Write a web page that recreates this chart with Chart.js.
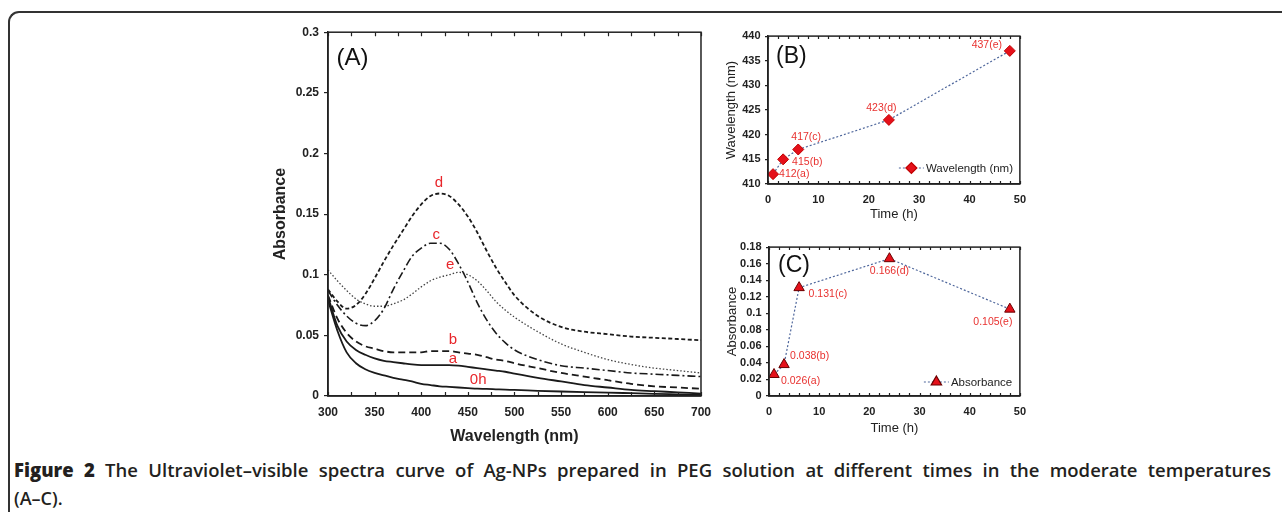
<!DOCTYPE html>
<html>
<head>
<meta charset="utf-8">
<script src="https://cdn.jsdelivr.net/npm/chart.js@4.4.0/dist/chart.umd.min.js"></script>
<style>
  html, body { margin: 0; padding: 0; background: #fff; }
  body { width: 1282px; height: 512px; position: relative; overflow: hidden; }
  .frame {
    position: absolute; left: 8px; top: 11px; width: 1400px; height: 600px;
    border-top: 2px solid #333; border-left: 2px solid #333;
    border-top-left-radius: 11px;
  }
  canvas { position: absolute; }
  #chartA { left: 260px; top: 20px; }
  #chartB { left: 705px; top: 25px; }
  #chartC { left: 705px; top: 236px; }
  .caption {
    position: absolute; left: 14px; top: 456px; width: 1257px;
    font-family: "Open Sans", Lato, sans-serif; font-size: 18px; line-height: 28px;
    color: #231f20; font-weight: 600;
  }
  .caption .l1 { text-align: justify; text-align-last: justify; }
  .caption b { font-weight: 800; }
</style>
</head>
<body>
<div class="frame"></div>
<canvas id="chartA" width="460" height="430"></canvas>
<canvas id="chartB" width="330" height="200"></canvas>
<canvas id="chartC" width="330" height="210"></canvas>
<div class="caption">
  <div class="l1" id="capLine"><b>Figure 2</b> The Ultraviolet–visible spectra curve of Ag-NPs prepared in PEG solution at different times in the moderate temperatures</div>
  <div>(A–C).</div>
</div>
<script>
/* ======================
DATA
====================== */

// (A) spectra
const wavelengths = [300, 310, 320, 330, 340, 350, 360, 370, 380, 390, 400, 410, 420, 430, 440, 450, 460, 470, 480, 490, 500, 525, 550, 575, 600, 625, 650, 675, 700];
const spec0h = [0.079, 0.054, 0.036, 0.027, 0.022, 0.019, 0.017, 0.015, 0.0135, 0.012, 0.010, 0.009, 0.008, 0.0075, 0.007, 0.0065, 0.006, 0.0058, 0.0055, 0.0052, 0.005, 0.0043, 0.0037, 0.0032, 0.0028, 0.0023, 0.0018, 0.0014, 0.001];
const specA = [0.082, 0.058, 0.045, 0.038, 0.034, 0.031, 0.029, 0.028, 0.027, 0.026, 0.0255, 0.0255, 0.0255, 0.0255, 0.025, 0.024, 0.023, 0.022, 0.021, 0.020, 0.0185, 0.015, 0.012, 0.009, 0.007, 0.005, 0.004, 0.003, 0.002];
const specB = [0.083, 0.064, 0.052, 0.045, 0.041, 0.039, 0.037, 0.036, 0.036, 0.036, 0.036, 0.037, 0.037, 0.037, 0.036, 0.035, 0.034, 0.032, 0.030, 0.029, 0.027, 0.023, 0.019, 0.016, 0.013, 0.010, 0.008, 0.007, 0.006];
const specC = [0.087, 0.075, 0.066, 0.060, 0.058, 0.062, 0.072, 0.088, 0.102, 0.115, 0.122, 0.126, 0.126, 0.121, 0.109, 0.094, 0.077, 0.063, 0.052, 0.044, 0.038, 0.030, 0.025, 0.023, 0.021, 0.019, 0.018, 0.017, 0.016];
const specD = [0.088, 0.078, 0.072, 0.075, 0.084, 0.097, 0.111, 0.124, 0.136, 0.148, 0.158, 0.165, 0.167, 0.165, 0.158, 0.148, 0.135, 0.120, 0.106, 0.094, 0.083, 0.066, 0.057, 0.053, 0.051, 0.049, 0.048, 0.047, 0.046];
const specE = [0.104, 0.095, 0.087, 0.080, 0.076, 0.074, 0.074, 0.076, 0.079, 0.084, 0.090, 0.095, 0.098, 0.100, 0.102, 0.100, 0.095, 0.087, 0.078, 0.071, 0.065, 0.053, 0.043, 0.036, 0.030, 0.026, 0.023, 0.021, 0.019];
const curveNames = ["0h", "a", "b", "c", "d", "e"];

// (B) and (C) time series
const sampleTags = ["a", "b", "c", "d", "e"];
const timesH = [1, 3, 6, 24, 48];
const peakWavelength = [412, 415, 417, 423, 437];
const peakAbsorbance = [0.026, 0.038, 0.131, 0.166, 0.105];

/* ======================
STYLES (label placement, not data)
====================== */

// where the red letters sit on panel A, in axis units
const curveLabelAt = [[461, 0.013], [434, 0.031], [434, 0.0465], [416, 0.133], [419, 0.1757], [431, 0.108]];
// [dx, dy, align] from each marker
const offsetsB = [[6, 0, "left"], [9, 2.5, "left"], [8, -12, "center"], [-7.5, -12, "center"], [-23, -6, "center"]];
const offsetsC = [[7, 7, "left"], [6, -8.5, "left"], [9.5, 6.5, "left"], [0, 12, "center"], [-17, 12.5, "center"]];

const BASE_FONT = "'Liberation Sans', Arial, sans-serif";
const RED_TEXT = "#e8312f";
const SERIES_BLUE = "#4f679c";

/* ======================
PLUGINS
====================== */

const panelFrame = {
  id: "panelFrame",
  afterDraw(chart, args, opts) {
    const { ctx, chartArea: a, scales } = chart;
    ctx.save();
    ctx.strokeStyle = "#222";
    ctx.lineWidth = 1.5;
    ctx.strokeRect(a.left, a.top, a.right - a.left, a.bottom - a.top);

    const xs = scales.x;
    ctx.lineWidth = 1.2;
    ctx.beginPath();
    for (let v = xs.min; v <= xs.max + 1e-9; v += opts.minorStep) {
      const px = Math.round(xs.getPixelForValue(v)) + 0.5;
      ctx.moveTo(px, a.bottom);
      ctx.lineTo(px, a.bottom - opts.tick);
      ctx.moveTo(px, a.top);
      ctx.lineTo(px, a.top + opts.tick);
    }
    ctx.stroke();

    ctx.fillStyle = "#111";
    ctx.font = opts.letterFont;
    ctx.textBaseline = "middle";
    ctx.textAlign = "left";
    ctx.fillText(opts.letter, a.left + opts.letterDx, a.top + opts.letterDy);

    if (opts.legend) {
      const lg = opts.legend;
      const ds = chart.data.datasets[0];
      const y = a.bottom - lg.dy;
      const x0 = a.right - lg.dx;
      ctx.strokeStyle = ds.borderColor;
      ctx.lineWidth = ds.borderWidth;
      ctx.setLineDash(ds.borderDash);
      ctx.beginPath();
      ctx.moveTo(x0, y);
      ctx.lineTo(x0 + lg.len, y);
      ctx.stroke();
      ctx.setLineDash([]);
      ctx.fillStyle = ds.pointBackgroundColor;
      ctx.strokeStyle = ds.pointBorderColor;
      Chart.helpers.drawPoint(ctx, {
        pointStyle: ds.pointStyle,
        radius: ds.pointRadius,
        rotation: 0,
        borderWidth: ds.pointBorderWidth
      }, x0 + lg.len / 2, y);
      ctx.fillStyle = "#222";
      ctx.font = "11.5px " + BASE_FONT;
      ctx.fillText(ds.label, x0 + lg.len + 2, y + 0.5);
    }
    ctx.restore();
  }
};

const pointLabels = {
  id: "pointLabels",
  afterDatasetsDraw(chart, args, opts) {
    if (!opts.texts) return;
    const { ctx } = chart;
    const meta = chart.getDatasetMeta(0);
    ctx.save();
    ctx.font = opts.font;
    ctx.fillStyle = opts.color;
    ctx.textBaseline = "middle";
    meta.data.forEach((pt, i) => {
      const [dx, dy, align] = opts.offsets[i];
      ctx.textAlign = align;
      ctx.fillText(opts.texts[i], pt.x + dx, pt.y + dy);
    });
    ctx.restore();
  }
};

const curveLabels = {
  id: "curveLabels",
  afterDatasetsDraw(chart, args, opts) {
    if (!opts.texts) return;
    const { ctx, scales } = chart;
    ctx.save();
    ctx.font = opts.font;
    ctx.fillStyle = opts.color;
    ctx.textAlign = "center";
    ctx.textBaseline = "middle";
    opts.texts.forEach((t, i) => {
      const [xv, yv] = opts.at[i];
      ctx.fillText(t, scales.x.getPixelForValue(xv), scales.y.getPixelForValue(yv));
    });
    ctx.restore();
  }
};

/* ======================
HELPERS
====================== */

function fmt(v) {
  return String(parseFloat(v.toFixed(4)));
}

function fixedWidth(w) {
  return (scale) => { scale.width = w; };
}

function fixedHeight(h) {
  return (scale) => { scale.height = h; };
}

function xy(xs, ys) {
  return xs.map((x, i) => ({ x: x, y: ys[i] }));
}

// keep the first caption line on one line
const capLine = document.getElementById("capLine");
let capSize = 18.5;
capLine.style.fontSize = capSize + "px";
while (capLine.offsetHeight > 30 && capSize > 12) {
  capSize -= 0.25;
  capLine.style.fontSize = capSize + "px";
}

/* ======================
CHART A
====================== */

const curveStyles = [
  { dash: [], width: 1.8, color: "#1a1a1a" },
  { dash: [], width: 1.8, color: "#1a1a1a" },
  { dash: [7, 4], width: 1.8, color: "#1a1a1a" },
  { dash: [8, 3, 2, 3], width: 1.6, color: "#1a1a1a" },
  { dash: [4, 2.5], width: 1.8, color: "#1a1a1a" },
  { dash: [1.5, 2], width: 1.3, color: "#444" }
];
const curveValues = [spec0h, specA, specB, specC, specD, specE];

new Chart(document.getElementById("chartA"), {
  type: "line",
  data: {
    datasets: curveValues.map((vals, i) => ({
      label: curveNames[i],
      data: xy(wavelengths, vals),
      borderColor: curveStyles[i].color,
      borderWidth: curveStyles[i].width,
      borderDash: curveStyles[i].dash,
      pointRadius: 0,
      fill: false,
      cubicInterpolationMode: "monotone"
    }))
  },
  options: {
    responsive: false,
    animation: false,
    layout: { padding: { top: 11, right: 11, left: 0, bottom: 0 } },
    scales: {
      x: {
        type: "linear",
        min: 300,
        max: 700,
        afterFit: fixedHeight(54),
        grid: { display: false, drawTicks: false },
        border: { color: "#222", width: 1.5 },
        ticks: { stepSize: 50, padding: 9, color: "#222", font: { family: BASE_FONT, size: 12, weight: "bold" } },
        title: { display: true, text: "Wavelength (nm)", color: "#222", padding: { top: 0, bottom: 4 }, font: { family: BASE_FONT, size: 16, weight: "bold" } }
      },
      y: {
        min: 0,
        max: 0.3,
        afterFit: fixedWidth(68),
        grid: { drawOnChartArea: false, tickLength: 4, color: "#222", lineWidth: 1.2 },
        border: { color: "#222", width: 1.5 },
        ticks: { stepSize: 0.05, padding: 5, color: "#222", callback: fmt, font: { family: BASE_FONT, size: 12, weight: "bold" } },
        title: { display: true, text: "Absorbance", color: "#222", padding: { top: 11, bottom: 0 }, font: { family: BASE_FONT, size: 16, weight: "bold" } }
      }
    },
    plugins: {
      legend: { display: false },
      tooltip: { enabled: false },
      panelFrame: { minorStep: 25, tick: 4, letter: "(A)", letterFont: "24px " + BASE_FONT, letterDx: 8.5, letterDy: 26 },
      curveLabels: { texts: curveNames, at: curveLabelAt, font: "15px " + BASE_FONT, color: "#e8262b" }
    }
  },
  plugins: [panelFrame, curveLabels]
});

/* ======================
CHARTS B & C
====================== */

function timeChart(canvasId, cfg) {
  return new Chart(document.getElementById(canvasId), {
    type: "line",
    data: {
      datasets: [{
        label: cfg.label,
        data: xy(timesH, cfg.values),
        borderColor: SERIES_BLUE,
        borderWidth: 1.2,
        borderDash: [2, 2],
        tension: 0,
        pointStyle: cfg.pointStyle,
        pointRadius: cfg.pointRadius,
        pointBackgroundColor: "#e5101a",
        pointBorderColor: cfg.pointBorder,
        pointBorderWidth: 1
      }]
    },
    options: {
      responsive: false,
      animation: false,
      layout: { padding: { top: cfg.padTop, right: cfg.padRight, left: 0, bottom: 0 } },
      scales: {
        x: {
          type: "linear",
          min: 0,
          max: 50,
          afterFit: fixedHeight(cfg.xHeight),
          grid: { display: false, drawTicks: false },
          border: { color: "#222", width: 1.5 },
          ticks: { stepSize: 10, padding: 9, color: "#222", font: { family: BASE_FONT, size: 11, weight: "bold" } },
          title: { display: true, text: "Time (h)", color: "#222", padding: { top: 0, bottom: cfg.xTitlePad }, font: { family: BASE_FONT, size: 13 } }
        },
        y: {
          min: cfg.yMin,
          max: cfg.yMax,
          afterFit: fixedWidth(cfg.yWidth),
          grid: { drawOnChartArea: false, tickLength: 3, color: "#222", lineWidth: 1.2 },
          border: { color: "#222", width: 1.5 },
          ticks: { stepSize: cfg.yStep, padding: 4.5, color: "#222", callback: fmt, font: { family: BASE_FONT, size: 11, weight: "bold" } },
          title: { display: true, text: cfg.yTitle, color: "#222", padding: { top: cfg.yTitlePad, bottom: 0 }, font: { family: BASE_FONT, size: 13 } }
        }
      },
      plugins: {
        legend: { display: false },
        tooltip: { enabled: false },
        panelFrame: { minorStep: 2, tick: 3, letter: cfg.letter, letterFont: "23px " + BASE_FONT, letterDx: cfg.letterDx, letterDy: cfg.letterDy, legend: cfg.legend },
        pointLabels: { texts: cfg.texts, offsets: cfg.offsets, font: "10.5px " + BASE_FONT, color: RED_TEXT }
      }
    },
    plugins: [panelFrame, pointLabels]
  });
}

timeChart("chartB", {
  label: "Wavelength (nm)",
  values: peakWavelength,
  pointStyle: "rectRot",
  pointRadius: 5.5,
  pointBorder: "#c00000",
  padTop: 9,
  padRight: 12,
  xHeight: 41,
  xTitlePad: 3,
  yWidth: 63,
  yTitlePad: 19,
  yMin: 410,
  yMax: 440,
  yStep: 5,
  yTitle: "Wavelength (nm)",
  letter: "(B)",
  letterDx: 8,
  letterDy: 21,
  legend: { dx: 121, dy: 16, len: 25 },
  texts: peakWavelength.map((v, i) => v + "(" + sampleTags[i] + ")"),
  offsets: offsetsB
});

timeChart("chartC", {
  label: "Absorbance",
  values: peakAbsorbance,
  pointStyle: "triangle",
  pointRadius: 6,
  pointBorder: "#6a0000",
  padTop: 10,
  padRight: 11,
  xHeight: 50,
  xTitlePad: 10,
  yWidth: 64,
  yTitlePad: 20,
  yMin: 0,
  yMax: 0.18,
  yStep: 0.02,
  yTitle: "Absorbance",
  letter: "(C)",
  letterDx: 9,
  letterDy: 19,
  legend: { dx: 96, dy: 14, len: 25 },
  texts: peakAbsorbance.map((v, i) => v.toFixed(3) + "(" + sampleTags[i] + ")"),
  offsets: offsetsC
});
</script>
</body>
</html>
